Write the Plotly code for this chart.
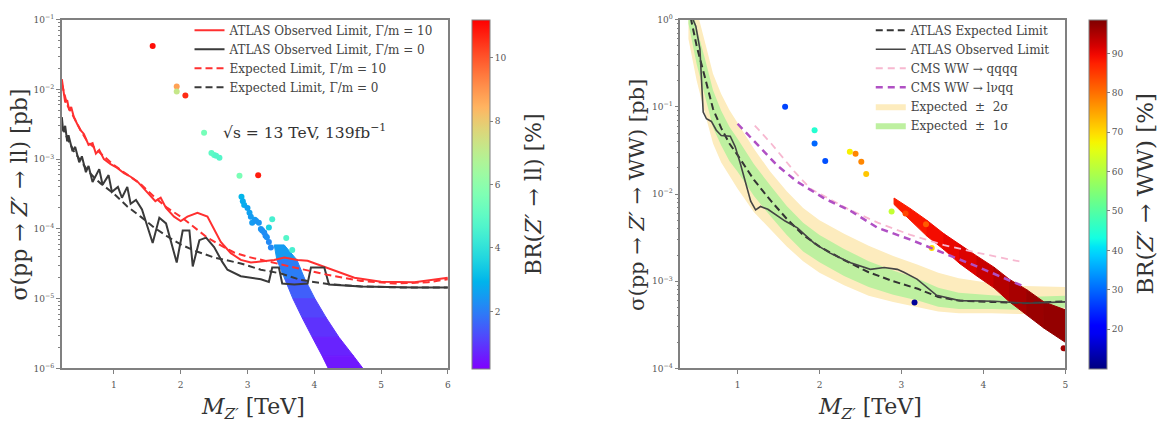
import numpy as np
import plotly.graph_objects as go
from plotly.colors import sample_colorscale

# ================= LEFT PANEL DATA : Z' -> ll =================
obs10_x = [0.22, 0.27, 0.30, 0.33, 0.36, 0.40, 0.45, 0.50, 0.55, 0.62, 0.68, 0.73, 0.78, 0.85, 0.95,
           1.05, 1.15, 1.25, 1.35, 1.45, 1.55, 1.62, 1.70, 1.78, 1.90, 2.00, 2.10, 2.25, 2.40, 2.50,
           2.60, 2.75, 2.90, 3.05, 3.20, 3.40, 3.55, 3.75, 3.90, 4.05, 4.30, 4.60, 5.00, 5.50, 6.00]
obs10_y = [1.4e-2, 6.5e-3, 7.0e-3, 5.0e-3, 5.6e-3, 4.0e-3, 3.2e-3, 2.6e-3, 2.3e-3, 1.6e-3, 1.7e-3,
           1.2e-3, 1.35e-3, 1.0e-3, 8.5e-4, 7.5e-4, 6.3e-4, 5.6e-4, 4.8e-4, 3.8e-4, 3.0e-4, 2.5e-4,
           2.8e-4, 2.0e-4, 1.5e-4, 1.3e-4, 1.5e-4, 1.7e-4, 1.5e-4, 1.0e-4, 6.5e-5, 4.5e-5, 3.6e-5,
           3.3e-5, 3.4e-5, 3.6e-5, 3.9e-5, 3.6e-5, 3.5e-5, 3.1e-5, 2.5e-5, 2.0e-5, 1.75e-5, 1.72e-5, 2.0e-5]

exp10_x = [0.22, 0.30, 0.40, 0.50, 0.60, 0.80, 1.00, 1.20, 1.40, 1.60, 1.80, 2.00, 2.20, 2.40, 2.60,
           2.80, 3.00, 3.30, 3.70, 4.20, 4.70, 5.20, 5.70, 6.00]
exp10_y = [1.2e-2, 6.0e-3, 4.0e-3, 2.6e-3, 1.8e-3, 1.2e-3, 8.2e-4, 6.0e-4, 4.4e-4, 2.9e-4, 2.0e-4,
           1.5e-4, 1.05e-4, 7.5e-5, 5.8e-5, 4.6e-5, 4.0e-5, 3.4e-5, 2.8e-5, 2.2e-5, 1.8e-5, 1.65e-5,
           1.72e-5, 1.9e-5]

obs0_x = [0.22, 0.24, 0.27, 0.30, 0.32, 0.38, 0.42, 0.48, 0.52, 0.58, 0.62, 0.68, 0.78, 0.83, 0.92,
          0.97, 1.06, 1.12, 1.20, 1.25, 1.33, 1.42, 1.58, 1.68, 1.78, 1.94, 2.03, 2.13, 2.18, 2.28,
          2.38, 2.50, 2.62, 2.70, 2.90, 3.20, 3.32, 3.37, 3.47, 3.52, 3.70, 3.90, 3.95, 4.15, 4.22,
          4.70, 5.50, 6.00]
obs0_y = [4.0e-3, 2.5e-3, 3.0e-3, 1.8e-3, 2.2e-3, 1.3e-3, 1.5e-3, 9.0e-4, 1.1e-3, 6.5e-4, 8.0e-4,
          4.7e-4, 7.2e-4, 4.3e-4, 5.9e-4, 3.4e-4, 4.0e-4, 2.8e-4, 4.0e-4, 2.3e-4, 2.6e-4, 1.9e-4,
          6.3e-5, 1.45e-4, 1.2e-4, 3.3e-5, 9.5e-5, 9.5e-5, 2.9e-5, 6.9e-5, 7.5e-5, 5.5e-5, 3.4e-5,
          2.6e-5, 2.1e-5, 1.9e-5, 1.74e-5, 2.8e-5, 2.8e-5, 1.65e-5, 1.6e-5, 1.65e-5, 2.8e-5, 2.8e-5,
          1.6e-5, 1.5e-5, 1.45e-5, 1.45e-5]

exp0_x = [0.22, 0.30, 0.40, 0.50, 0.60, 0.70, 0.80, 1.00, 1.20, 1.40, 1.60, 1.80, 2.00, 2.20, 2.50,
          2.90, 3.20, 3.50, 3.80, 4.20, 4.70, 5.30, 6.00]
exp0_y = [3.0e-3, 2.0e-3, 1.3e-3, 9.5e-4, 7.0e-4, 5.5e-4, 4.5e-4, 3.2e-4, 2.1e-4, 1.5e-4, 1.05e-4,
          7.8e-5, 6.0e-5, 4.9e-5, 3.9e-5, 3.2e-5, 2.6e-5, 2.3e-5, 1.85e-5, 1.63e-5, 1.5e-5, 1.45e-5,
          1.45e-5]

# individual scan points (mass, sigma, BR %)
ll_pts_x = [1.58, 1.94, 1.94, 2.07, 2.35, 2.46, 2.50, 2.53, 2.58, 2.88, 3.16,
            2.91, 2.93, 2.95, 3.00, 3.03, 3.05, 3.07, 3.11, 3.13, 3.17, 3.20, 3.22, 3.25, 3.27,
            3.29, 3.32, 3.35, 3.37, 3.32, 3.58, 3.67]
ll_pts_y = [4.2e-2, 1.1e-2, 9.3e-3, 8.2e-3, 2.4e-3, 1.23e-3, 1.15e-3, 1.12e-3, 1.05e-3, 5.8e-4, 5.9e-4,
            2.9e-4, 2.5e-4, 2.2e-4, 2.0e-4, 1.7e-4, 1.5e-4, 1.23e-4, 1.35e-4, 1.3e-4, 1.23e-4, 1.0e-4,
            9.5e-5, 8.9e-5, 8.0e-5, 7.6e-5, 6.5e-5, 5.4e-5, 1.38e-4, 1.05e-4, 7.4e-5, 5.0e-5]
ll_pts_br = [11.0, 8.8, 7.2, 10.6, 5.5, 5.0, 5.0, 4.8, 4.8, 5.6, 10.8,
             3.0, 2.8, 2.8, 2.6, 2.6, 2.5, 2.5, 2.5, 2.4, 2.4, 2.4, 2.3, 2.3, 2.2,
             2.3, 2.2, 2.2, 4.5, 3.6, 4.8, 4.5]

# dense region of scan points: rows (sigma, mass low edge, mass high edge, BR %)
ll_band_y = [5.9e-5, 3.6e-5, 1.9e-5, 1.0e-5, 5.3e-6, 2.8e-6, 1.5e-6, 1.0e-6]
ll_band_xlo = [3.40, 3.44, 3.56, 3.68, 3.82, 3.97, 4.12, 4.21]
ll_band_xhi = [3.55, 3.74, 3.86, 4.01, 4.18, 4.37, 4.59, 4.73]
ll_band_br = [2.8, 2.2, 1.8, 1.3, 1.0, 0.8, 0.6, 0.5]

ll_y_tickvals = [1e-6, 1e-5, 1e-4, 1e-3, 1e-2, 1e-1]
ll_y_ticktext = ["10<sup>−6</sup>", "10<sup>−5</sup>", "10<sup>−4</sup>", "10<sup>−3</sup>",
                 "10<sup>−2</sup>", "10<sup>−1</sup>"]
ll_x_tickvals = [1, 2, 3, 4, 5, 6]
ll_cb_ticks = [2, 4, 6, 8, 10]

# ================= RIGHT PANEL DATA : Z' -> WW =================
ww_exp_x = [0.40, 0.45, 0.50, 0.60, 0.70, 0.80, 0.90, 1.0, 1.2, 1.4, 1.6, 1.8, 2.0, 2.3, 2.6, 2.9,
            3.2, 3.45, 3.7, 4.1, 4.5, 5.0]
ww_exp_y = [1.4, 0.84, 0.50, 0.22, 0.095, 0.057, 0.038, 0.028, 0.0145, 8.5e-3, 5.2e-3, 3.4e-3,
            2.5e-3, 1.75e-3, 1.27e-3, 1.0e-3, 8.2e-4, 6.6e-4, 6.0e-4, 5.8e-4, 5.6e-4, 5.9e-4]
ww_g_lo = [0.9, 0.52, 0.31, 0.135, 0.058, 0.036, 0.024, 0.018, 0.0095, 5.6e-3, 3.4e-3, 2.2e-3,
           1.65e-3, 1.15e-3, 8.6e-4, 7.0e-4, 6.0e-4, 5.1e-4, 4.8e-4, 4.8e-4, 4.7e-4, 5.0e-4]
ww_g_hi = [2.2, 1.35, 0.80, 0.36, 0.155, 0.090, 0.059, 0.043, 0.022, 1.25e-2, 7.3e-3, 4.7e-3,
           3.4e-3, 2.35e-3, 1.7e-3, 1.33e-3, 1.07e-3, 8.4e-4, 7.4e-4, 6.9e-4, 6.6e-4, 6.8e-4]
ww_y_lo = [0.6, 0.35, 0.20, 0.085, 0.038, 0.023, 0.016, 0.0115, 0.0062, 3.9e-3, 2.5e-3, 1.7e-3,
           1.25e-3, 9.0e-4, 6.8e-4, 5.8e-4, 5.0e-4, 4.5e-4, 4.3e-4, 4.3e-4, 4.2e-4, 4.5e-4]
ww_y_hi = [3.0, 2.0, 1.25, 0.56, 0.24, 0.14, 0.092, 0.066, 0.033, 1.8e-2, 1.08e-2, 6.9e-3,
           5.0e-3, 3.5e-3, 2.55e-3, 1.95e-3, 1.55e-3, 1.25e-3, 1.08e-3, 9.5e-4, 8.8e-4, 8.6e-4]

ww_obs_x = [0.42, 0.49, 0.54, 0.58, 0.62, 0.68, 0.74, 0.80, 0.91, 0.97, 1.03, 1.09, 1.16, 1.22,
            1.28, 1.37, 1.45, 1.58, 1.73, 1.94, 2.13, 2.38, 2.62, 2.79, 2.95, 3.03, 3.19, 3.43,
            3.71, 4.13, 4.53, 5.00]
ww_obs_y = [1.2, 0.84, 0.46, 0.087, 0.073, 0.068, 0.054, 0.047, 0.046, 0.035, 0.023, 0.0145,
            8.3e-3, 6.6e-3, 7.2e-3, 6.7e-3, 6.0e-3, 4.9e-3, 4.1e-3, 2.7e-3, 2.1e-3, 1.63e-3,
            1.37e-3, 1.44e-3, 1.37e-3, 1.27e-3, 1.06e-3, 6.9e-4, 6.0e-4, 5.9e-4, 5.6e-4, 5.8e-4]

cms_qqqq_x = [1.21, 1.41, 1.70, 1.89, 2.34, 2.71, 3.11, 3.52, 3.92, 4.44]
cms_qqqq_y = [0.061, 0.038, 0.0178, 0.0115, 6.8e-3, 4.7e-3, 3.4e-3, 2.6e-3, 2.13e-3, 1.69e-3]
cms_lvqq_x = [1.00, 1.25, 1.49, 1.73, 2.06, 2.38, 2.71, 3.11, 3.52, 3.92, 4.47]
cms_lvqq_y = [0.064, 0.036, 0.021, 0.0138, 8.9e-3, 6.4e-3, 4.1e-3, 3.0e-3, 2.1e-3, 1.48e-3, 8.9e-4]

ww_pts_x = [1.58, 1.94, 1.94, 2.07, 2.37, 2.44, 2.51, 2.57, 2.88, 3.37, 3.16, 4.98, 3.05, 3.30]
ww_pts_y = [0.10, 0.054, 0.038, 0.024, 0.0305, 0.029, 0.0235, 0.017, 6.3e-3, 2.4e-3, 5.7e-4,
            1.7e-4, 6.0e-3, 4.5e-3]
ww_pts_br = [27, 45, 30, 28, 68, 78, 78, 72, 62, 70, 12, 96, 84, 82]

# dense region of scan points: slices (mass, sigma low, sigma high, BR %)
ww_band_x = [2.91, 3.11, 3.31, 3.52, 3.71, 3.92, 4.13, 4.32, 4.53, 4.74, 5.00]
ww_band_ylo = [7.6e-3, 5.0e-3, 3.3e-3, 2.3e-3, 1.6e-3, 1.15e-3, 8.4e-4, 5.8e-4, 4.1e-4, 2.9e-4, 2.0e-4]
ww_band_yhi = [9.0e-3, 6.8e-3, 5.0e-3, 3.5e-3, 2.65e-3, 1.95e-3, 1.45e-3, 1.05e-3, 8.0e-4, 5.8e-4, 4.7e-4]
ww_band_br = [88, 88, 89, 90, 91, 92, 94, 95, 96, 97, 97]

ww_y_tickvals = [1e-4, 1e-3, 1e-2, 1e-1, 1]
ww_y_ticktext = ["10<sup>−4</sup>", "10<sup>−3</sup>", "10<sup>−2</sup>", "10<sup>−1</sup>", "10<sup>0</sup>"]
ww_x_tickvals = [1, 2, 3, 4, 5]
ww_cb_ticks = [20, 30, 40, 50, 60, 70, 80, 90]

# ================= STYLE HELPERS =================
W, H = 1170, 424
FONT = "DejaVu Serif"
AX = "#808080"
TXT = "#333333"


def rainbow_scale(n=33):
    out = []
    for i in range(n):
        t = i / (n - 1)
        r = min(1.0, abs(2 * t - 0.5))
        g = max(0.0, np.sin(np.pi * t))
        b = max(0.0, np.cos(np.pi * t / 2))
        out.append([t, f"rgb({int(r*255)},{int(g*255)},{int(b*255)})"])
    return out


def jet_scale(n=41):
    rd = ([0, 0.35, 0.66, 0.89, 1], [0, 0, 1, 1, 0.5])
    gd = ([0, 0.125, 0.375, 0.64, 0.91, 1], [0, 0, 1, 1, 0, 0])
    bd = ([0, 0.11, 0.34, 0.65, 1], [0.5, 1, 1, 0, 0])
    out = []
    for i in range(n):
        t = i / (n - 1)
        r, g, b = (np.interp(t, *rd), np.interp(t, *gd), np.interp(t, *bd))
        out.append([t, f"rgb({int(r*255)},{int(g*255)},{int(b*255)})"])
    return out


RAINBOW = rainbow_scale()
JET = jet_scale()
LL_RANGE = (0.2, 11.2)
WW_RANGE = (10.0, 98.6)


def color_of(scale, v, rng):
    t = (v - rng[0]) / (rng[1] - rng[0])
    return sample_colorscale(scale, [min(1, max(0, t))])[0]


def px_x(p):
    return p / W


def px_y(p):
    return 1 - p / H


fig = go.Figure()

# ---------------- left panel ----------------
for i in range(len(ll_band_y) - 1):
    c = color_of(RAINBOW, 0.5 * (ll_band_br[i] + ll_band_br[i + 1]), LL_RANGE)
    fig.add_trace(go.Scatter(
        x=[ll_band_xlo[i], ll_band_xhi[i], ll_band_xhi[i + 1], ll_band_xlo[i + 1], ll_band_xlo[i]],
        y=[ll_band_y[i], ll_band_y[i], ll_band_y[i + 1], ll_band_y[i + 1], ll_band_y[i]],
        mode="lines", fill="toself", fillcolor=c, line=dict(color=c, width=1),
        showlegend=False, hoverinfo="skip", xaxis="x", yaxis="y"))

fig.add_trace(go.Scatter(
    x=ll_pts_x, y=ll_pts_y, mode="markers", showlegend=False, xaxis="x", yaxis="y",
    marker=dict(size=6, color=ll_pts_br, coloraxis="coloraxis", line=dict(width=0))))

fig.add_trace(go.Scatter(x=obs10_x, y=obs10_y, mode="lines", name="ATLAS Observed Limit, Γ/m = 10",
                         line=dict(color="#ff3030", width=2), xaxis="x", yaxis="y",
                         legend="legend", legendgroup="a1"))
fig.add_trace(go.Scatter(x=obs0_x, y=obs0_y, mode="lines", name="ATLAS Observed Limit, Γ/m = 0",
                         line=dict(color="#3a3a3a", width=2), xaxis="x", yaxis="y",
                         legend="legend", legendgroup="a2"))
fig.add_trace(go.Scatter(x=exp10_x, y=exp10_y, mode="lines", name="Expected Limit, Γ/m = 10",
                         line=dict(color="#ff3030", width=2, dash="7px,4px"), xaxis="x", yaxis="y",
                         legend="legend", legendgroup="a3"))
fig.add_trace(go.Scatter(x=exp0_x, y=exp0_y, mode="lines", name="Expected Limit, Γ/m = 0",
                         line=dict(color="#3a3a3a", width=2, dash="7px,4px"), xaxis="x", yaxis="y",
                         legend="legend", legendgroup="a4"))

# ---------------- right panel ----------------
YELLOW = "rgb(253,236,190)"
GREEN = "rgb(190,240,160)"
fig.add_trace(go.Scatter(x=ww_exp_x, y=ww_y_lo, mode="lines", line=dict(width=0, color=YELLOW),
                         showlegend=False, hoverinfo="skip", xaxis="x2", yaxis="y2"))
fig.add_trace(go.Scatter(x=ww_exp_x, y=ww_y_hi, mode="lines", line=dict(width=0, color=YELLOW),
                         fill="tonexty", fillcolor=YELLOW, name="Expected  ±  2σ",
                         xaxis="x2", yaxis="y2", legend="legend2", legendrank=5, legendgroup="b5"))
fig.add_trace(go.Scatter(x=ww_exp_x, y=ww_g_lo, mode="lines", line=dict(width=0, color=GREEN),
                         showlegend=False, hoverinfo="skip", xaxis="x2", yaxis="y2"))
fig.add_trace(go.Scatter(x=ww_exp_x, y=ww_g_hi, mode="lines", line=dict(width=0, color=GREEN),
                         fill="tonexty", fillcolor=GREEN, name="Expected  ±  1σ",
                         xaxis="x2", yaxis="y2", legend="legend2", legendrank=6, legendgroup="b6"))

for i in range(len(ww_band_x) - 1):
    c = color_of(JET, 0.5 * (ww_band_br[i] + ww_band_br[i + 1]), WW_RANGE)
    fig.add_trace(go.Scatter(
        x=[ww_band_x[i], ww_band_x[i + 1], ww_band_x[i + 1], ww_band_x[i], ww_band_x[i]],
        y=[ww_band_ylo[i], ww_band_ylo[i + 1], ww_band_yhi[i + 1], ww_band_yhi[i], ww_band_ylo[i]],
        mode="lines", fill="toself", fillcolor=c, line=dict(color=c, width=1),
        showlegend=False, hoverinfo="skip", xaxis="x2", yaxis="y2"))

fig.add_trace(go.Scatter(
    x=ww_pts_x, y=ww_pts_y, mode="markers", showlegend=False, xaxis="x2", yaxis="y2",
    marker=dict(size=6, color=ww_pts_br, coloraxis="coloraxis2", line=dict(width=0))))

fig.add_trace(go.Scatter(x=cms_qqqq_x, y=cms_qqqq_y, mode="lines", name="CMS WW → qqqq",
                         line=dict(color="#f7b8d0", width=1.8, dash="7px,5px"),
                         xaxis="x2", yaxis="y2", legend="legend2", legendrank=3, legendgroup="b3"))
fig.add_trace(go.Scatter(x=cms_lvqq_x, y=cms_lvqq_y, mode="lines", name="CMS WW → lνqq",
                         line=dict(color="#b050c4", width=2.5, dash="7px,5px"),
                         xaxis="x2", yaxis="y2", legend="legend2", legendrank=4, legendgroup="b4"))
fig.add_trace(go.Scatter(x=ww_exp_x, y=ww_exp_y, mode="lines", name="ATLAS Expected Limit",
                         line=dict(color="#333333", width=2, dash="7px,4px"),
                         xaxis="x2", yaxis="y2", legend="legend2", legendrank=1, legendgroup="b1"))
fig.add_trace(go.Scatter(x=ww_obs_x, y=ww_obs_y, mode="lines", name="ATLAS Observed Limit",
                         line=dict(color="#444444", width=1.6),
                         xaxis="x2", yaxis="y2", legend="legend2", legendrank=2, legendgroup="b2"))

# ---------------- axes ----------------
tickfont = dict(family=FONT, size=9, color="#555555")
ydom = [px_y(372), px_y(13)]


def minor_vals(lo, hi):
    return [k * 10.0 ** d for d in range(lo, hi) for k in range(2, 10)]


common = dict(showline=True, linecolor=AX, linewidth=1.5, mirror=True, showgrid=False,
              zeroline=False, ticks="outside", ticklen=4, tickcolor=AX, tickfont=tickfont)

legend_style = dict(xanchor="left", yanchor="top", bgcolor="rgba(255,255,255,0)",
                    font=dict(family=FONT, size=12, color="#444"),
                    itemwidth=30, tracegroupgap=1, traceorder="normal")

fig.update_layout(
    width=W, height=H, margin=dict(l=0, r=0, t=0, b=0),
    paper_bgcolor="white", plot_bgcolor="white",
    xaxis=dict(domain=[px_x(62), px_x(449)], range=[0.22, 6], anchor="y",
               tickmode="array", tickvals=ll_x_tickvals, ticklabelstandoff=3, **common),
    yaxis=dict(domain=ydom, type="log", range=[-6, -1], anchor="x",
               tickmode="array", tickvals=ll_y_tickvals, ticktext=ll_y_ticktext,
               minor=dict(tickmode="array", tickvals=minor_vals(-6, -1), ticks="outside",
                          ticklen=2, tickcolor=AX, showgrid=False), **common),
    xaxis2=dict(domain=[px_x(682), px_x(1068)], range=[0.3, 5], anchor="y2",
                tickmode="array", tickvals=ww_x_tickvals, ticklabelstandoff=3, **common),
    yaxis2=dict(domain=ydom, type="log", range=[-4, 0], anchor="x2",
                tickmode="array", tickvals=ww_y_tickvals, ticktext=ww_y_ticktext,
                minor=dict(tickmode="array", tickvals=minor_vals(-4, 0), ticks="outside",
                           ticklen=2, tickcolor=AX, showgrid=False), **common),
    coloraxis=dict(colorscale=RAINBOW, cmin=LL_RANGE[0], cmax=LL_RANGE[1],
                   colorbar=dict(x=px_x(473), xanchor="left", y=(ydom[0] + ydom[1]) / 2,
                                 yanchor="middle", len=359 / H, lenmode="fraction",
                                 thickness=18, thicknessmode="pixels", xpad=0, ypad=0,
                                 outlinewidth=1, outlinecolor=AX, tickmode="array",
                                 tickvals=ll_cb_ticks, ticks="outside", ticklen=3,
                                 tickcolor=AX, tickfont=tickfont)),
    coloraxis2=dict(colorscale=JET, cmin=WW_RANGE[0], cmax=WW_RANGE[1],
                    colorbar=dict(x=px_x(1092), xanchor="left", y=(ydom[0] + ydom[1]) / 2,
                                  yanchor="middle", len=359 / H, lenmode="fraction",
                                  thickness=18, thicknessmode="pixels", xpad=0, ypad=0,
                                  outlinewidth=1, outlinecolor=AX, tickmode="array",
                                  tickvals=ww_cb_ticks, ticks="outside", ticklen=3,
                                  tickcolor=AX, tickfont=tickfont)),
    legend=dict(x=px_x(190), y=px_y(9), **legend_style),
    legend2=dict(x=px_x(873), y=px_y(9), **legend_style),
    showlegend=True,
)

annots = [
    dict(x=px_x(20), y=px_y(193), text="σ(pp → <i>Z′</i> → ll) [pb]", textangle=-90,
         font=dict(family=FONT, size=22, color=TXT)),
    dict(x=px_x(638), y=px_y(193), text="σ(pp → <i>Z′</i> → WW) [pb]", textangle=-90,
         font=dict(family=FONT, size=21, color=TXT)),
    dict(x=px_x(254), y=px_y(413), text="<i>M</i><sub><i>Z′</i></sub> [TeV]",
         font=dict(family=FONT, size=22, color=TXT)),
    dict(x=px_x(872), y=px_y(413), text="<i>M</i><sub><i>Z′</i></sub> [TeV]",
         font=dict(family=FONT, size=22, color=TXT)),
    dict(x=px_x(535), y=px_y(193), text="BR(<i>Z′</i> → ll) [%]", textangle=-90,
         font=dict(family=FONT, size=22, color=TXT)),
    dict(x=px_x(1148), y=px_y(192), text="BR(<i>Z′</i> → WW) [%]", textangle=-90,
         font=dict(family=FONT, size=23, color=TXT)),
    dict(x=px_x(305), y=px_y(128), text="√s = 13 TeV, 139fb<sup>−1</sup>",
         font=dict(family=FONT, size=15.5, color=TXT)),
]
for a in annots:
    a.update(xref="paper", yref="paper", showarrow=False, xanchor="center", yanchor="middle")
fig.update_layout(annotations=annots)

fig.write_html("out.html")
